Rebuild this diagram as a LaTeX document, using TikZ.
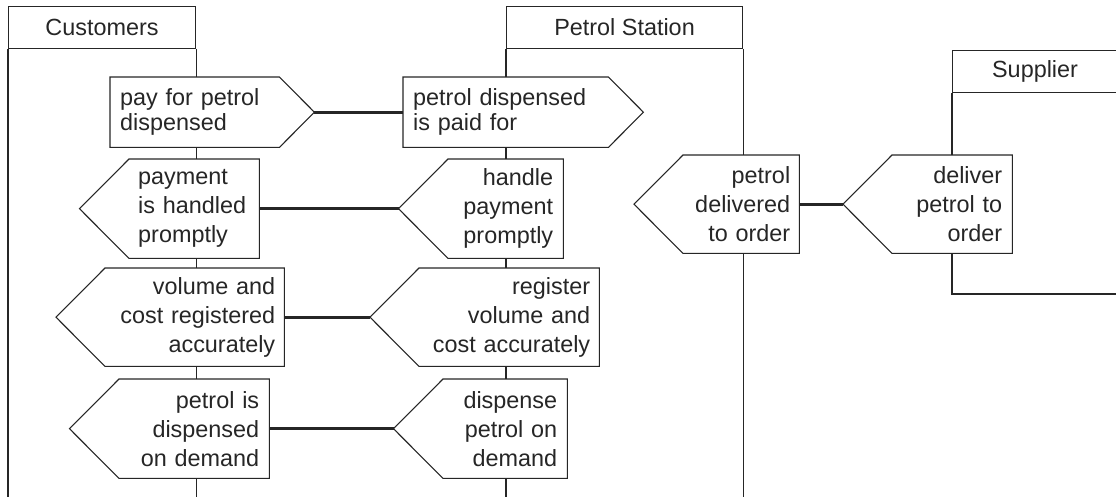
\documentclass[tikz,border=0pt]{standalone}
\usepackage{fontspec}
\setmainfont{Liberation Sans}
\usetikzlibrary{calc}
\definecolor{ink}{HTML}{262626}
\begin{document}
\begin{tikzpicture}[x=1pt,y=-1pt,
  every node/.style={font=\fontsize{23.4}{29}\selectfont, text=ink},
  lanehead/.style={draw=ink, line width=1.1pt, inner sep=0pt, anchor=north west, minimum height=42pt},
  lifeline/.style={draw=ink, line width=1.1pt},
  goalbox/.style={fill=white, inner xsep=10pt, inner ysep=0pt, anchor=north west},
  tight/.style={font=\fontsize{23.4}{25}\selectfont},
  outline/.style={draw=ink, line width=1.1pt, line join=miter},
  link/.style={draw=ink, line width=3pt},
]
\useasboundingbox (0,0) rectangle (1116,496);
\clip (0,0) rectangle (1116,496);
\coordinate (bottom) at (0,500);
\coordinate (farright) at (1125,0);

% swimlane headers
\node[lanehead, minimum width=187pt] (cust) at (8,6) {Customers};
\node[lanehead, minimum width=236pt] (stat) at (506,6) {Petrol Station};
\node[lanehead, minimum width=165pt] (supp) at (952,50) {Supplier};

% swimlane borders
\draw[lifeline] (cust.south west) -- (cust.south west |- bottom);
\draw[lifeline] (cust.south east) -- (cust.south east |- bottom);
\draw[lifeline] (stat.south west) -- (stat.south west |- bottom);
\draw[lifeline] (stat.south east) -- (stat.south east |- bottom);
\coordinate (suppcorner) at (952,294);
\draw[lifeline] (supp.south west) -- (suppcorner) -- (suppcorner -| farright);

% goals pointing right
\node[goalbox, tight, align=left, text width=149pt, minimum height=70pt] (a1) at (110,77) {pay for petrol\\dispensed};
\coordinate (a1tip) at ($(a1.east)+(35,0)$);
\draw[outline] (a1.north west) -- (a1.north east) -- (a1tip) -- (a1.south east) -- (a1.south west) -- cycle;

\node[goalbox, tight, align=left, text width=185pt, minimum height=70pt] (a2) at (403,77) {petrol dispensed\\is paid for};
\coordinate (a2tip) at ($(a2.east)+(35,0)$);
\draw[outline] (a2.north west) -- (a2.north east) -- (a2tip) -- (a2.south east) -- (a2.south west) -- cycle;

% goals pointing left
\node[goalbox, align=left, text width=112pt, minimum height=99pt, inner xsep=9pt] (b1) at (129,159) {payment\\is handled\\promptly};
\coordinate (b1tip) at ($(b1.west)-(49.5,0)$);
\draw[outline] (b1.north east) -- (b1.north west) -- (b1tip) -- (b1.south west) -- (b1.south east) -- cycle;

\node[goalbox, align=right, text width=95pt, minimum height=99pt] (b2) at (448,159) {handle\\payment\\promptly};
\coordinate (b2tip) at ($(b2.west)-(49.5,0)$);
\draw[outline] (b2.north east) -- (b2.north west) -- (b2tip) -- (b2.south west) -- (b2.south east) -- cycle;

\node[goalbox, align=right, text width=161pt, minimum height=98pt, inner xsep=9pt] (c1) at (105,268) {volume and\\cost registered\\accurately};
\coordinate (c1tip) at ($(c1.west)-(49,0)$);
\draw[outline] (c1.north east) -- (c1.north west) -- (c1tip) -- (c1.south west) -- (c1.south east) -- cycle;

\node[goalbox, align=right, text width=162pt, minimum height=98pt, inner xsep=9pt] (c2) at (419,268) {register\\volume and\\cost accurately};
\coordinate (c2tip) at ($(c2.west)-(49,0)$);
\draw[outline] (c2.north east) -- (c2.north west) -- (c2tip) -- (c2.south west) -- (c2.south east) -- cycle;

\node[goalbox, align=right, text width=130pt, minimum height=99pt] (d1) at (119,379) {petrol is\\dispensed\\on demand};
\coordinate (d1tip) at ($(d1.west)-(49.5,0)$);
\draw[outline] (d1.north east) -- (d1.north west) -- (d1tip) -- (d1.south west) -- (d1.south east) -- cycle;

\node[goalbox, align=right, text width=104pt, minimum height=99pt] (d2) at (443,379) {dispense\\petrol on\\demand};
\coordinate (d2tip) at ($(d2.west)-(49.5,0)$);
\draw[outline] (d2.north east) -- (d2.north west) -- (d2tip) -- (d2.south west) -- (d2.south east) -- cycle;

\node[goalbox, align=right, text width=98pt, minimum height=98pt, inner xsep=9pt] (e1) at (683,155) {petrol\\delivered\\to order};
\coordinate (e1tip) at ($(e1.west)-(49,0)$);
\draw[outline] (e1.north east) -- (e1.north west) -- (e1tip) -- (e1.south west) -- (e1.south east) -- cycle;

\node[goalbox, align=right, text width=100pt, minimum height=98pt] (e2) at (892,155) {deliver\\petrol to\\order};
\coordinate (e2tip) at ($(e2.west)-(49,0)$);
\draw[outline] (e2.north east) -- (e2.north west) -- (e2tip) -- (e2.south west) -- (e2.south east) -- cycle;

% dependency links
\draw[link] (a1tip) -- (a2.west);
\draw[link] (b1.east) -- (b2tip);
\draw[link] (c1.east) -- (c2tip);
\draw[link] (d1.east) -- (d2tip);
\draw[link] (e1.east) -- (e2tip);
\end{tikzpicture}
\end{document}
